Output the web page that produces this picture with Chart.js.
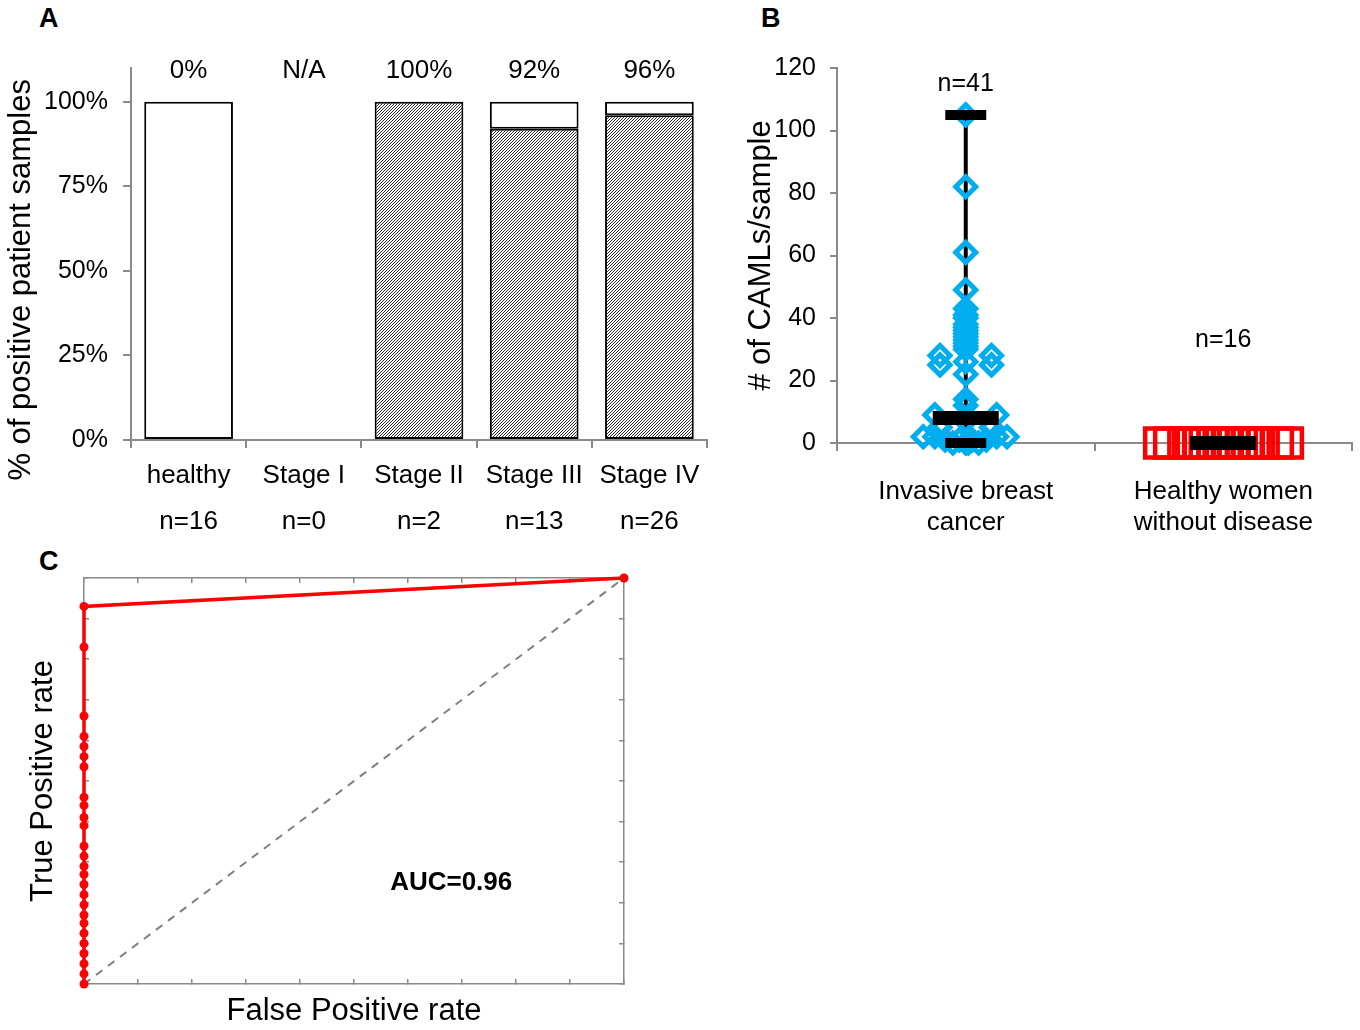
<!DOCTYPE html>
<html>
<head>
<meta charset="utf-8">
<script src="https://cdn.jsdelivr.net/npm/chart.js@4.4.1/dist/chart.umd.min.js"></script>
<style>
    html, body { margin: 0; padding: 0; background: #fff; }
    body { width: 1360px; height: 1030px; position: relative; overflow: hidden; font-family: "Liberation Sans", Arial, sans-serif; }
    canvas { position: absolute; }
    .letter { position: absolute; font-weight: bold; font-size: 27px; color: #000; }
</style>
</head>
<body>
<div class="letter" style="left:39px;top:3px">A</div>
<div class="letter" style="left:761px;top:3px">B</div>
<div class="letter" style="left:39px;top:546px">C</div>
<canvas id="chartA" width="740" height="550" style="left:0;top:0"></canvas>
<canvas id="chartB" width="620" height="550" style="left:740px;top:0"></canvas>
<canvas id="chartC" width="740" height="480" style="left:0;top:550px"></canvas>
<script>
// Panel A data
const stageLabels = ['healthy', 'Stage I', 'Stage II', 'Stage III', 'Stage IV'];
const stageCounts = ['n=16', 'n=0', 'n=2', 'n=13', 'n=26'];
const positivePct = [0, null, 100, 92, 96];
const negativePct = [100, null, 0, 8, 4];
const positiveText = ['0%', 'N/A', '100%', '92%', '96%'];
const pctTicks = [0, 25, 50, 75, 100];

// Panel B data
const groupLabels = [['Invasive breast', 'cancer'], ['Healthy women', 'without disease']];
const groupCounts = ['n=41', 'n=16'];
const countTextY = [115, 33];
const cancerCamls = [105, 82, 61, 49, 43, 41, 40, 38, 37, 36, 35, 34, 33, 32, 31, 30,
    28, 25, 28, 25, 26, 22, 14, 12, 9, 9, 7, 5, 5,
    2, 2, 1, 0, 1, 0, 1, 0, 1, 2, 2, 0];
const cancerJitter = [0, 0, 0, 0, 0, 0, 0, 0, 0, 0, 0, 0, 0, 0, 0, 0,
    -0.1, -0.1, 0.1, 0.1, 0, 0, 0, 0, -0.12, 0.12, 0, -0.1, 0.1,
    -0.165, -0.12, -0.08, -0.05, -0.025, 0, 0.025, 0.05, 0.08, 0.12, 0.16, 0.01];
const healthyCamls = [0, 0, 0, 0, 0, 0, 0, 0, 0, 0, 0, 0, 0, 0, 0, 0];
const healthyJitter = [-0.247, -0.208, -0.153, -0.12, -0.093, -0.07, -0.039, -0.016,
    0.016, 0.039, 0.07, 0.093, 0.12, 0.155, 0.21, 0.249];
const cancerMedian = 8;
const cancerRange = [0, 105];
const healthyMedian = 0;

// Panel C data
const rocFpr = [0, 0, 0, 0, 0, 0, 0, 0, 0, 0, 0, 0, 0, 0, 0, 0, 0, 0, 0, 0, 0, 0, 0, 0, 0, 0, 1];
const rocTpr = [0, 0.025, 0.05, 0.075, 0.1, 0.125, 0.15, 0.17, 0.195, 0.22, 0.245, 0.27, 0.29,
    0.315, 0.34, 0.39, 0.41, 0.44, 0.46, 0.535, 0.56, 0.585, 0.61, 0.66, 0.83, 0.93, 1];
const aucText = 'AUC=0.96';
const aucPos = { x: 0.68, y: 0.25 };

const AXIS_GREY = '#8a8a8a';
const CYAN = '#00AEEF';
const RED = '#FF0000';
const FONT = '"Liberation Sans", Arial, sans-serif';

Chart.defaults.font.family = FONT;
Chart.defaults.color = '#000';
Chart.defaults.animation = false;
Chart.defaults.plugins.legend.display = false;
Chart.defaults.plugins.tooltip.enabled = false;

// Text drawn at data coordinates
const textMarks = {
    id: 'textMarks',
    afterDatasetsDraw(chart, args, opts) {
        const { ctx } = chart;
        const xs = chart.scales.x, ys = chart.scales.y;
        ctx.save();
        ctx.fillStyle = '#000';
        ctx.textAlign = 'center';
        ctx.textBaseline = 'middle';
        (opts.items || []).forEach(item => {
            ctx.font = item.font;
            ctx.fillText(item.text, xs.getPixelForValue(item.x), ys.getPixelForValue(item.y));
        });
        ctx.restore();
    }
};

// Diagonal hatch fill for positive samples
function makeHatch() {
    const c = document.createElement('canvas');
    c.width = 3;
    c.height = 3;
    const g = c.getContext('2d');
    g.fillStyle = '#fff';
    g.fillRect(0, 0, 3, 3);
    g.strokeStyle = '#111';
    g.lineWidth = 0.9;
    g.beginPath();
    g.moveTo(0, 3); g.lineTo(3, 0);
    g.moveTo(-1, 1); g.lineTo(1, -1);
    g.moveTo(2, 4); g.lineTo(4, 2);
    g.stroke();
    return g.createPattern(c, 'repeat');
}

function axisGrid(len, extra) {
    return Object.assign({ drawOnChartArea: false, color: AXIS_GREY, tickLength: len, lineWidth: 2 }, extra || {});
}

// keep the plot area where the layout padding puts it
function fixHeight(h) {
    return s => { s.height = h; s.paddingLeft = 0; s.paddingRight = 0; };
}
function fixWidth(w) {
    return s => { s.width = w; s.paddingTop = 0; s.paddingBottom = 0; };
}

// Panel A: stacked percentage bars
function drawPanelA() {
    new Chart(document.getElementById('chartA'), {
        type: 'bar',
        data: {
            labels: stageLabels.map((s, i) => [s, stageCounts[i]]),
            datasets: [
                {
                    data: positivePct,
                    backgroundColor: makeHatch(),
                    borderColor: '#000',
                    borderWidth: 2,
                    borderSkipped: false,
                    barPercentage: 0.77,
                    categoryPercentage: 1
                },
                {
                    data: negativePct,
                    backgroundColor: '#fff',
                    borderColor: '#000',
                    borderWidth: 2,
                    borderSkipped: false,
                    barPercentage: 0.77,
                    categoryPercentage: 1
                }
            ]
        },
        options: {
            responsive: false,
            layout: { autoPadding: false, padding: { top: 68, right: 33, left: 0, bottom: 0 } },
            plugins: {
                textMarks: {
                    items: positiveText.map((t, i) => ({ text: t, x: i, y: 109.2, font: '26px ' + FONT }))
                }
            },
            scales: {
                x: {
                    stacked: true,
                    afterFit: fixHeight(110),
                    border: { color: AXIS_GREY, width: 2 },
                    grid: axisGrid(8, { offset: true }),
                    ticks: { font: { size: 26, lineHeight: 1.8 }, color: '#000', padding: 4, maxRotation: 0, autoSkip: false }
                },
                y: {
                    stacked: true,
                    min: 0,
                    max: 110,
                    afterBuildTicks: s => { s.ticks = pctTicks.map(v => ({ value: v })); },
                    afterFit: fixWidth(131),
                    border: { color: AXIS_GREY, width: 2 },
                    grid: axisGrid(8),
                    ticks: { font: { size: 25 }, color: '#000', padding: 15, callback: v => v + '%' },
                    // trailing spaces nudge the title down like the original
                    title: { display: true, text: '% of positive patient samples      ', font: { size: 31 }, padding: { top: 3, bottom: 0 } }
                }
            }
        },
        plugins: [textMarks]
    });
}

// Panel B: CAML counts per group
function drawPanelB() {
    const cancerPts = cancerCamls.map((v, i) => ({ x: 0 + cancerJitter[i], y: v }));
    const healthyPts = healthyCamls.map((v, i) => ({ x: 1 + healthyJitter[i], y: v }));
    new Chart(document.getElementById('chartB'), {
        type: 'scatter',
        data: {
            datasets: [
                {
                    data: [{ x: 0, y: cancerMedian }, { x: 1, y: healthyMedian }],
                    pointStyle: 'line', pointRadius: 33, pointBorderWidth: 14,
                    borderColor: '#000', clip: false
                },
                {
                    data: cancerRange.map(v => ({ x: 0, y: v })),
                    pointStyle: 'line', pointRadius: 20.5, pointBorderWidth: 10,
                    borderColor: '#000', clip: false
                },
                {
                    data: healthyPts,
                    pointStyle: 'rect', pointRadius: 20.5, pointBorderWidth: 4.5,
                    borderColor: RED, backgroundColor: 'rgba(0,0,0,0)', clip: false
                },
                {
                    data: cancerPts,
                    pointStyle: 'rectRot', pointRadius: 10, pointBorderWidth: 5,
                    borderColor: CYAN, backgroundColor: 'rgba(0,0,0,0)', clip: false
                },
                {
                    type: 'line',
                    data: cancerRange.map(v => ({ x: 0, y: v })),
                    showLine: true, borderColor: '#000', borderWidth: 4, pointRadius: 0, clip: false
                }
            ]
        },
        options: {
            responsive: false,
            layout: { autoPadding: false, padding: { top: 68, right: 8, left: 0, bottom: 0 } },
            plugins: {
                textMarks: {
                    items: groupCounts.map((t, i) => ({ text: t, x: i, y: countTextY[i], font: '25px ' + FONT }))
                }
            },
            scales: {
                x: {
                    type: 'linear',
                    min: -0.5,
                    max: 1.5,
                    afterBuildTicks: s => { s.ticks = [-0.5, 0, 0.5, 1, 1.5].map(v => ({ value: v })); },
                    afterFit: fixHeight(107),
                    border: { color: AXIS_GREY, width: 2 },
                    grid: axisGrid(8, { tickColor: c => (c.tick && Number.isInteger(c.tick.value)) ? 'rgba(0,0,0,0)' : AXIS_GREY }),
                    ticks: {
                        font: { size: 26, lineHeight: 1.2 }, color: '#000', padding: 25, maxRotation: 0, autoSkip: false,
                        callback: v => v === 0 ? groupLabels[0] : (v === 1 ? groupLabels[1] : '')
                    }
                },
                y: {
                    min: 0,
                    max: 120,
                    ticks: { stepSize: 20, font: { size: 25 }, color: '#000', padding: 14 },
                    afterFit: fixWidth(97),
                    border: { color: AXIS_GREY, width: 2 },
                    grid: axisGrid(7),
                    title: { display: true, text: '# of CAMLs/sample', font: { size: 31 }, padding: { top: 3, bottom: 0 } }
                }
            }
        },
        plugins: [textMarks]
    });
}

// Panel C: ROC curve
function drawPanelC() {
    const boxAxis = (pos, fit) => ({
        type: 'linear',
        position: pos,
        min: 0,
        max: 1,
        afterFit: fit,
        ticks: { display: false, stepSize: 0.1 },
        border: { color: AXIS_GREY, width: 1.5 },
        grid: { drawOnChartArea: false, color: AXIS_GREY, tickLength: -5, lineWidth: 1.5 }
    });
    const x = boxAxis('bottom', fixHeight(46));
    x.title = { display: true, text: 'False Positive rate', font: { size: 31 }, padding: { top: 0, bottom: 0 } };
    const y = boxAxis('left', fixWidth(84));
    y.title = { display: true, text: 'True Positive rate', font: { size: 31 }, padding: { top: 25, bottom: 0 } };

    new Chart(document.getElementById('chartC'), {
        type: 'scatter',
        data: {
            datasets: [
                {
                    data: rocFpr.map((v, i) => ({ x: v, y: rocTpr[i] })),
                    showLine: true, borderColor: RED, borderWidth: 3.5,
                    pointRadius: 4.5, pointBackgroundColor: RED, pointBorderWidth: 0, clip: false
                },
                {
                    data: [{ x: 0, y: 0 }, { x: 1, y: 1 }],
                    showLine: true, borderColor: '#808080', borderWidth: 2, borderDash: [8, 7],
                    pointRadius: 0, clip: false
                }
            ]
        },
        options: {
            responsive: false,
            layout: { autoPadding: false, padding: { top: 28, right: 116, left: 0, bottom: 0 } },
            plugins: {
                textMarks: {
                    items: [{ text: aucText, x: aucPos.x, y: aucPos.y, font: 'bold 26px ' + FONT }]
                }
            },
            scales: {
                x: x,
                y: y,
                x2: boxAxis('top', fixHeight(0)),
                y2: boxAxis('right', fixWidth(0))
            }
        },
        plugins: [textMarks]
    });
}

drawPanelA();
drawPanelB();
drawPanelC();
</script>
</body>
</html>
